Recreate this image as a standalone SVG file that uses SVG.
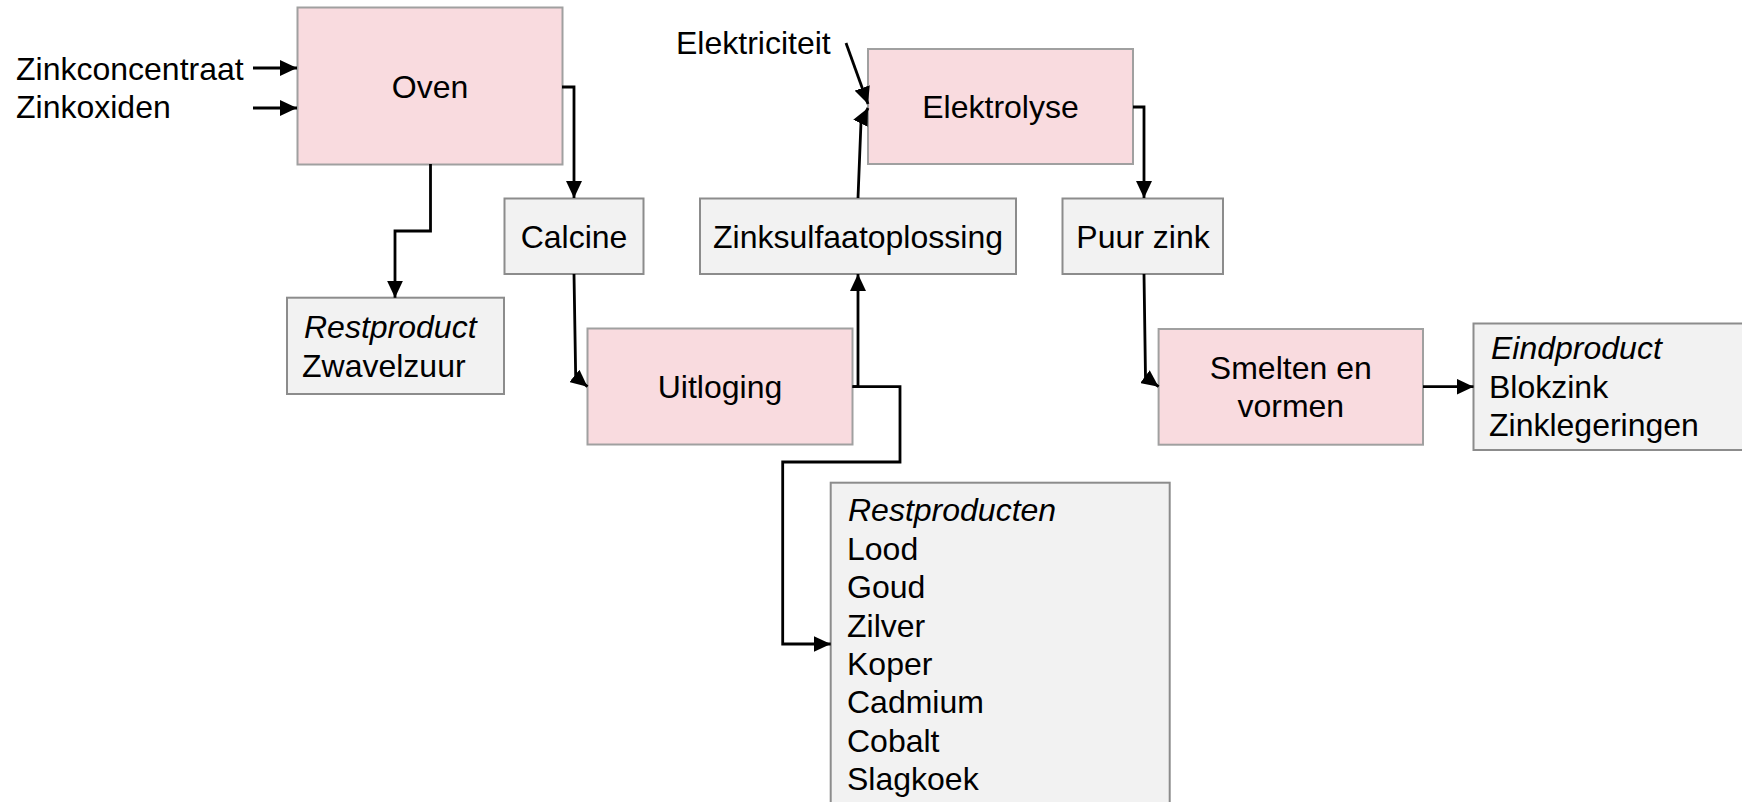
<svg xmlns="http://www.w3.org/2000/svg" width="1742" height="802" viewBox="0 0 1742 802">
<defs>
<marker id="ah" markerUnits="userSpaceOnUse" markerWidth="18" markerHeight="16" refX="17" refY="8" orient="auto">
<path d="M0,0 L17,8 L0,16 z" fill="#000"/>
</marker>
<style>
.p{fill:#F9DBDF;stroke:#A0A0A0;stroke-width:2}
.g{fill:#F2F2F2;stroke:#8C8C8C;stroke-width:2}
text{font-family:"Liberation Sans",Arial,sans-serif;font-size:32px;fill:#000}
.c{text-anchor:middle}
.i{font-style:italic}
.ln{fill:none;stroke:#000;stroke-width:2.8;marker-end:url(#ah)}
</style>
</defs>
<rect width="1742" height="802" fill="#fff"/>
<g id="inputs">
<text x="16" y="80">Zinkconcentraat</text>
<text x="16" y="118">Zinkoxiden</text>
</g>
<g id="elektriciteit">
<text x="676" y="54">Elektriciteit</text>
</g>
<g id="oven">
<rect class="p" x="297.5" y="7.5" width="265" height="157"/>
<text class="c" x="430" y="98">Oven</text>
</g>
<g id="calcine">
<rect class="g" x="504.5" y="198.5" width="139" height="75.5"/>
<text class="c" x="574" y="248">Calcine</text>
</g>
<g id="restproduct">
<rect class="g" x="287" y="297.7" width="217" height="96.3"/>
<text class="i" x="304" y="338">Restproduct</text>
<text x="302" y="376.5">Zwavelzuur</text>
</g>
<g id="uitloging">
<rect class="p" x="587.5" y="328.5" width="265" height="116"/>
<text class="c" x="720" y="398">Uitloging</text>
</g>
<g id="zinksulfaatoplossing">
<rect class="g" x="700" y="198.5" width="316" height="75.5"/>
<text class="c" x="858" y="248">Zinksulfaatoplossing</text>
</g>
<g id="elektrolyse">
<rect class="p" x="868" y="49" width="265" height="115"/>
<text class="c" x="1000.5" y="118">Elektrolyse</text>
</g>
<g id="puurzink">
<rect class="g" x="1062.5" y="198.5" width="160.5" height="75.5"/>
<text class="c" x="1143" y="247.5">Puur zink</text>
</g>
<g id="smelten">
<rect class="p" x="1158.6" y="329" width="264.4" height="115.7"/>
<text class="c" x="1290.8" y="379">Smelten en</text>
<text class="c" x="1290.8" y="417">vormen</text>
</g>
<g id="eindproduct">
<rect class="g" x="1473.5" y="323.5" width="290" height="126.5"/>
<text class="i" x="1491" y="359">Eindproduct</text>
<text x="1489" y="397.5">Blokzink</text>
<text x="1489" y="436">Zinklegeringen</text>
</g>
<g id="restproducten">
<rect class="g" x="830.7" y="482.7" width="339" height="340"/>
<text class="i" x="848" y="521">Restproducten</text>
<text x="847" y="560">Lood</text>
<text x="847" y="598.3">Goud</text>
<text x="847" y="636.7">Zilver</text>
<text x="847" y="675">Koper</text>
<text x="847" y="713.3">Cadmium</text>
<text x="847" y="751.7">Cobalt</text>
<text x="847" y="790">Slagkoek</text>
</g>
<g id="connectors">
<path class="ln" d="M253 68 H297"/>
<path class="ln" d="M253 108 H297"/>
<path class="ln" d="M562 87 H574 V198"/>
<path class="ln" d="M430.5 164 V231 H395 V297.7"/>
<path class="ln" d="M574 274 L575.7 377 L587.5 386.7"/>
<path class="ln" d="M852.5 386.7 H858 V274"/>
<path class="ln" d="M852.5 386.7 H900 V462 H782.7 V644 H830.7"/>
<path class="ln" d="M858 198 L861 122 L868 108"/>
<path class="ln" d="M846 43 L868 104"/>
<path class="ln" d="M1133 107 H1144 V198"/>
<path class="ln" d="M1144 274 L1145.5 377 L1158.6 386.7"/>
<path class="ln" d="M1423 386.7 H1473.5"/>
</g>
</svg>
